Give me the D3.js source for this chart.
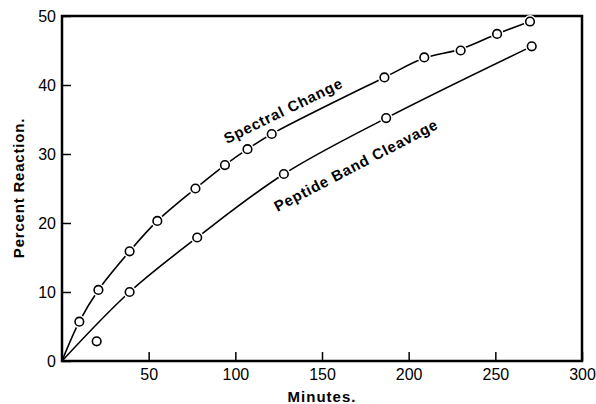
<!DOCTYPE html>
<html><head><meta charset="utf-8">
<script src="https://cdn.jsdelivr.net/npm/d3@7"></script>
<style>
body{margin:0;background:#fff;}
svg{display:block;}
text{font-family:"Liberation Sans",Arial,sans-serif;fill:#000;}
</style></head><body>
<svg id="c" width="596" height="404"></svg>
<script>
// Data
const spectralMinutes = [10, 21, 39, 55, 77, 94, 107, 121, 186, 209, 230, 251, 270];
const spectralPercent = [5.7, 10.3, 15.9, 20.3, 25.0, 28.4, 30.7, 32.9, 41.1, 44.0, 45.0, 47.4, 49.2];
const peptideMinutes = [20, 39, 78, 128, 187, 271];
const peptidePercent = [2.85, 10.0, 17.9, 27.1, 35.2, 45.6];
// smooth hand-drawn curves (knots)
const spectralCurveX = [0, 10, 21, 39, 55, 77, 94, 107, 121, 186, 209, 230, 251, 270];
const spectralCurveY = [0, 5.7, 10.3, 15.9, 20.3, 25.0, 28.4, 30.7, 32.9, 41.1, 43.9, 45.2, 47.4, 49.2];
const peptideCurveX = [0, 39, 78, 128, 187, 271];
const peptideCurveY = [0, 10.0, 17.9, 27.1, 35.2, 45.6];
const xTicks = [50, 100, 150, 200, 250, 300];
const yTicks = [0, 10, 20, 30, 40, 50];
const xTitle = "Minutes.";
const yTitle = "Percent Reaction.";
const labels = [
  {text: "Spectral Change", at: [129, 35.6], angle: -26},
  {text: "Peptide Band Cleavage", at: [171, 27.7], angle: -27.5}
];

const svg = d3.select("#c");
const x = d3.scaleLinear().domain([0, 300]).range([62, 582]);
const y = d3.scaleLinear().domain([0, 50]).range([361, 16]);

// axes with inward ticks
const gx = svg.append("g").attr("transform", `translate(0,${y(0)})`)
  .call(d3.axisBottom(x).tickValues(xTicks).tickSizeInner(-9).tickSizeOuter(0).tickPadding(7));
const gy = svg.append("g").attr("transform", `translate(${x(0)},0)`)
  .call(d3.axisLeft(y).tickValues(yTicks).tickSizeInner(-9).tickSizeOuter(0).tickPadding(6));
[gx, gy].forEach(g => {
  g.select(".domain").remove();
  g.selectAll(".tick line").attr("stroke", "#000").attr("stroke-width", 1.5);
  g.selectAll(".tick text").attr("font-size", 16).attr("font-family", "Liberation Sans, Arial, sans-serif").attr("fill", "#000");
});
gx.selectAll(".tick text").attr("dy", "0.72em");
gy.selectAll(".tick text").attr("dy", "0.35em");

// frame
svg.append("rect").attr("x", x(0)).attr("y", y(50)).attr("width", x(300) - x(0)).attr("height", y(0) - y(50))
  .attr("fill", "none").attr("stroke", "#000").attr("stroke-width", 2.5);

// curves
const line = d3.line().x(d => x(d[0])).y(d => y(d[1])).curve(d3.curveCatmullRom.alpha(0.5));
svg.append("path").datum(d3.zip(spectralCurveX, spectralCurveY)).attr("d", line)
  .attr("fill", "none").attr("stroke", "#000").attr("stroke-width", 1.6);
svg.append("path").datum(d3.zip(peptideCurveX, peptideCurveY)).attr("d", line)
  .attr("fill", "none").attr("stroke", "#000").attr("stroke-width", 1.6);

// markers
function markers(xs, ys) {
  const pts = d3.zip(xs, ys);
  svg.append("g").selectAll("circle.halo").data(pts).join("circle")
    .attr("cx", d => x(d[0])).attr("cy", d => y(d[1])).attr("r", 6.5).attr("fill", "#fff");
  svg.append("g").selectAll("circle.m").data(pts).join("circle")
    .attr("cx", d => x(d[0])).attr("cy", d => y(d[1])).attr("r", 4.3)
    .attr("fill", "#fff").attr("stroke", "#000").attr("stroke-width", 1.6);
}
markers(spectralMinutes, spectralPercent);
markers(peptideMinutes, peptidePercent);

// curve labels
labels.forEach(l => {
  svg.append("text").attr("transform", `translate(${x(l.at[0])},${y(l.at[1])}) rotate(${l.angle})`)
    .attr("text-anchor", "middle").attr("font-size", 15).attr("font-weight", "bold")
    .attr("letter-spacing", 0.8).text(l.text);
});

// axis titles
svg.append("text").attr("x", (x(0) + x(300)) / 2).attr("y", 402)
  .attr("text-anchor", "middle").attr("font-size", 15).attr("font-weight", "bold")
  .attr("letter-spacing", 1).text(xTitle);
svg.append("text").attr("transform", `translate(24,188) rotate(-90)`)
  .attr("text-anchor", "middle").attr("font-size", 15).attr("font-weight", "bold")
  .attr("letter-spacing", 0.8).text(yTitle);
</script>
</body></html>
